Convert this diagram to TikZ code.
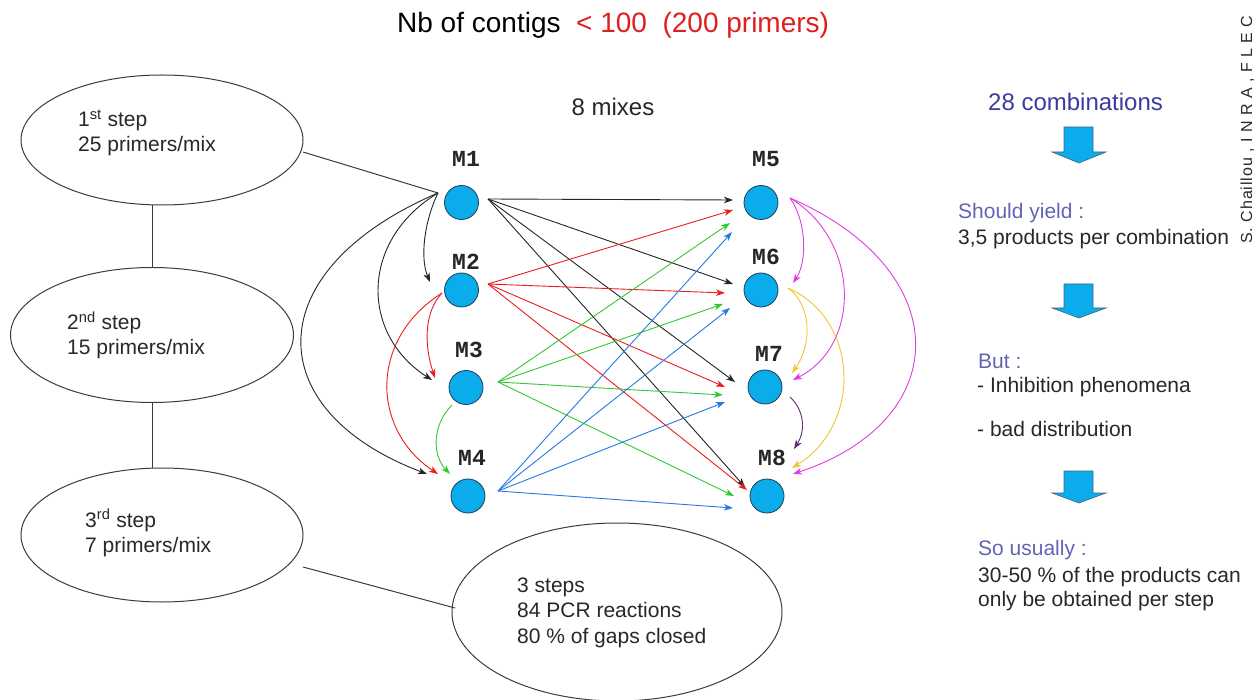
\documentclass[tikz,border=0pt]{standalone}
\usepackage{fontspec}
\setmainfont{Liberation Sans}
\newfontfamily\courfont{Liberation Mono}
\usetikzlibrary{shapes.geometric,arrows.meta,calc}
\definecolor{mixblue}{RGB}{10,172,235}
\definecolor{mixedge}{RGB}{30,60,90}
\definecolor{ellgray}{RGB}{60,60,60}
\definecolor{txtgray}{RGB}{40,40,40}
\definecolor{headblue}{RGB}{60,60,160}
\definecolor{subblue}{RGB}{100,100,180}
\definecolor{titlered}{RGB}{225,30,30}
\definecolor{arrred}{RGB}{235,30,30}
\definecolor{arrgreen}{RGB}{50,200,50}
\definecolor{arrblue}{RGB}{40,120,230}
\definecolor{arrmag}{RGB}{225,60,225}
\definecolor{arryel}{RGB}{245,195,50}
\definecolor{arrpur}{RGB}{100,40,120}
\begin{document}
\begin{tikzpicture}[x=1pt,y=-1pt,
  stepell/.style={draw=ellgray,line width=1pt,ellipse,inner sep=0pt},
  mix/.style={circle,fill=mixblue,draw=mixedge,line width=0.8pt,minimum size=34pt,inner sep=0pt},
  mlabel/.style={font=\courfont\bfseries\fontsize{23}{26}\selectfont,anchor=base,inner sep=0pt,text=black!85},
  txt/.style={font=\fontsize{21}{25}\selectfont,anchor=base west,inner sep=0pt,text=txtgray},
  subtxt/.style={txt,text=subblue},
  link/.style={draw=ellgray,line width=1pt},
  tip/.style={-{Stealth[length=9pt,width=6.5pt,inset=2.5pt]},line width=0.9pt},
  blk/.style={tip,draw=black!85},
  red/.style={tip,draw=arrred},
  grn/.style={tip,draw=arrgreen},
  blu/.style={tip,draw=arrblue},
  mag/.style={tip,draw=arrmag},
  yel/.style={tip,draw=arryel},
  pur/.style={tip,draw=arrpur},
  bigarrow/.style={fill=mixblue,draw=mixedge!80,line width=0.6pt}
]
\useasboundingbox[fill=white] (0,0) rectangle (1256,700);

% title
\node[anchor=base west,inner sep=0pt,font=\fontsize{28}{32}\selectfont] (title) at (397,33)
  {Nb of contigs\ \ \textcolor{titlered}{<\ 100\ \ (200 primers)}};

% vertical credit
\node[rotate=90,anchor=base west,inner sep=0pt,text=txtgray,font=\addfontfeatures{LetterSpace=6}\fontsize{16}{18}\selectfont] (credit) at (1252,244) {S. Chaillou , I N R A , F L E C};

% step ellipses
\node[stepell,minimum width=282pt,minimum height=130pt] (E1) at (162,140) {};
\node[stepell,minimum width=283pt,minimum height=135pt] (E2) at (152,335) {};
\node[stepell,minimum width=282pt,minimum height=134pt] (E3) at (162,535) {};
\node[stepell,minimum width=330pt,minimum height=178pt] (E4) at (617,612) {};

\node[txt] (t1a) at (78,127) {1\textsuperscript{st} step};
\node[txt] (t1b) at (78,152) {25 primers/mix};
\node[txt] (t2a) at (67,330) {2\textsuperscript{nd} step};
\node[txt] (t2b) at (67,355) {15 primers/mix};
\node[txt] (t3a) at (85,527) {3\textsuperscript{rd} step};
\node[txt] (t3b) at (85,552) {7 primers/mix};
\node[txt] (t4a) at (517,592) {3 steps};
\node[txt] (t4b) at (517,617) {84 PCR reactions};
\node[txt] (t4c) at (517,643) {80 \% of gaps closed};

\draw[link] (E1.south -| E2.north) -- (E2.north);
\draw[link] (E2.south) -- (E3.north -| E2.south);

% mixes
\node[anchor=base,inner sep=0pt,font=\fontsize{24}{28}\selectfont,text=txtgray] (mixes) at (613,116) {8 mixes};
\node[mix] (M1) at (461.5,202.5) {};
\node[mix] (M2) at (461.5,290) {};
\node[mix] (M3) at (466,387.5) {};
\node[mix] (M4) at (468,496) {};
\node[mix] (M5) at (761,202.5) {};
\node[mix] (M6) at (761,290) {};
\node[mix] (M7) at (765,387) {};
\node[mix] (M8) at (767,496) {};
\node[mlabel] (L1) at (466,167) {M1};
\node[mlabel] (L2) at (466,270) {M2};
\node[mlabel] (L3) at (469,358) {M3};
\node[mlabel] (L4) at (472,465) {M4};
\node[mlabel] (L5) at (766,167) {M5};
\node[mlabel] (L6) at (766,265) {M6};
\node[mlabel] (L7) at (769,362) {M7};
\node[mlabel] (L8) at (772,465) {M8};

% connector points
\coordinate (P1) at (438,193);
\coordinate (E1r) at (303,152);
\coordinate (E3r) at (303,567);
\coordinate (E4l) at (455,608);
\coordinate (A1) at (488,199);
\coordinate (A2) at (488,284);
\coordinate (A3) at (498,382);
\coordinate (A4) at (498,491);
\coordinate (R2) at (442,293);
\coordinate (G3) at (452,405);
\coordinate (S5) at (790,198);
\coordinate (S6) at (788,288);
\coordinate (S7) at (790,397);

\draw[link] (E1r) -- (P1);
\draw[link] (E3r) -- (E4l);

% black from M1
\draw[blk] (A1) -- (733,200);
\draw[blk] (A1) -- (733,284);
\draw[blk] (A1) -- (735,382);
\draw[blk] (A1) -- (745,487);
\draw[blk] (P1) .. controls (424,222) and (420,258) .. (430,282);
\draw[blk] (P1) .. controls (360,240) and (360,334) .. (432,380);
\draw[blk] (P1) .. controls (258,270) and (258,410) .. (427,474);

% red from M2
\draw[red] (A2) -- (733,210);
\draw[red] (A2) -- (725,293);
\draw[red] (A2) -- (725,387);
\draw[red] (A2) -- (747,490);
\draw[red] (R2) .. controls (424,312) and (424,345) .. (435,378);
\draw[red] (R2) .. controls (368,340) and (372,430) .. (438,474);

% green from M3
\draw[grn] (A3) -- (730,223);
\draw[grn] (A3) -- (723,304);
\draw[grn] (A3) -- (723,395);
\draw[grn] (A3) -- (734,496);
\draw[grn] (G3) .. controls (432,425) and (432,455) .. (450,474);

% blue from M4
\draw[blu] (A4) -- (732,232);
\draw[blu] (A4) -- (730,308);
\draw[blu] (A4) -- (725,402);
\draw[blu] (A4) -- (733,508);

% right side
\draw[mag] (S5) .. controls (807,222) and (807,262) .. (793,283);
\draw[mag] (S5) .. controls (860,240) and (862,345) .. (793,380);
\draw[mag] (S5) .. controls (956,270) and (956,420) .. (793,474);
\draw[yel] (S6) .. controls (812,305) and (812,345) .. (792,373);
\draw[yel] (S6) .. controls (860,320) and (862,425) .. (792,468);
\draw[pur] (S7) .. controls (804,410) and (806,430) .. (794,449);

% right column
\node[anchor=base west,inner sep=0pt,font=\fontsize{24}{28}\selectfont,text=headblue] (comb) at (988,111) {28 combinations};
\draw[bigarrow] (1064,127) -- (1093,127) -- (1093,152) -- (1106,152) -- (1079,163) -- (1052,152) -- (1064,152) -- cycle;
\node[subtxt] (sy) at (958,219) {Should yield :};
\node[txt] (sy2) at (958,245) {3,5 products per combination};
\draw[bigarrow] (1064,284) -- (1093,284) -- (1093,308) -- (1106,308) -- (1079,318) -- (1052,308) -- (1064,308) -- cycle;
\node[subtxt] (but) at (978,369) {But :};
\node[txt] (inh) at (977,393) {- Inhibition phenomena};
\node[txt] (bad) at (977,437) {- bad distribution};
\draw[bigarrow] (1064,471) -- (1093,471) -- (1093,493) -- (1106,493) -- (1079,503) -- (1052,493) -- (1064,493) -- cycle;
\node[subtxt] (so) at (978,555) {So usually :};
\node[txt] (so2) at (978,582) {30-50 \% of the products can};
\node[txt] (so3) at (978,606) {only be obtained per step};
\end{tikzpicture}
\end{document}
